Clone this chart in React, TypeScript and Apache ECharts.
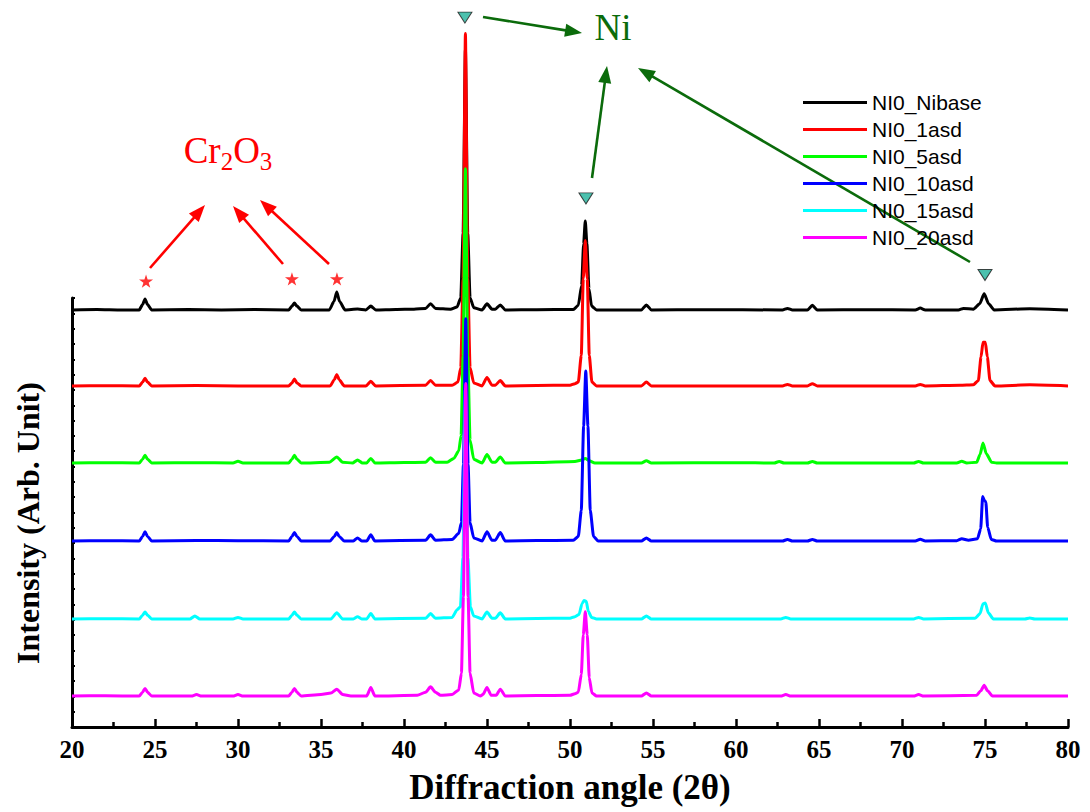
import React, { useEffect, useRef } from 'react';
import * as echarts from 'echarts';

const SERIF = "'Liberation Serif', 'Times New Roman', serif";
const SANS = "'Liberation Sans', Arial, sans-serif";

const seriesNames = ['NI0_Nibase', 'NI0_1asd', 'NI0_5asd', 'NI0_10asd', 'NI0_15asd', 'NI0_20asd'];
const seriesColors = ['#000000', '#ff0000', '#00ff00', '#0000ff', '#00ffff', '#ff00ff'];
// vertical stacking offsets (arb. units)
const baselineOffsets = [27.22, 22.26, 17.23, 12.14, 7.05, 2.02];

const xTicks = { min: 20, max: 80, interval: 5 };

// [2θ, intensity above own baseline]
const nibase: [number, number][] = [
  [20, 0], [21.5, 0.03], [23, 0], [24.05, 0], [24.25, 0.35], [24.4, 0.72], [24.55, 0.35], [24.8, 0],
  [27, 0.03], [29, 0], [31, 0.03], [33.05, 0], [33.25, 0.25], [33.4, 0.45], [33.55, 0.25], [33.8, 0],
  [35.5, 0], [35.78, 0.55], [35.95, 1.17], [36.12, 0.55], [36.45, 0], [37.2, 0.06], [37.7, 0], [38.0, 0.25],
  [38.3, 0], [39.5, 0.03], [40.6, 0.05], [41.3, 0.1], [41.6, 0.4], [41.9, 0.1], [42.8, 0.05], [43.2, 0.2],
  [43.42, 0.8], [43.56, 5], [43.7, 17], [43.84, 5], [43.98, 0.8], [44.2, 0.15], [44.7, 0], [45.0, 0.4],
  [45.3, 0.05], [45.5, 0.05], [45.8, 0.33], [46.1, 0], [48, 0.02], [50.2, 0.03], [50.5, 0.3], [50.7, 1.6],
  [50.82, 4.3], [50.92, 5.8], [51.02, 4.3], [51.14, 1.4], [51.3, 0.25], [51.6, 0], [54.3, 0], [54.6, 0.33],
  [54.9, 0], [58, 0.02], [62.8, 0], [63.1, 0.1], [63.4, 0], [64.3, 0], [64.6, 0.3], [64.9, 0], [68, 0.02],
  [70.8, 0], [71.1, 0.12], [71.4, 0], [73.4, 0], [73.7, 0.1], [74.3, 0.05], [74.68, 0.4], [74.95, 1.05],
  [75.22, 0.4], [75.55, 0], [77.7, 0.08], [80, 0],
];

const asd1: [number, number][] = [
  [20, 0], [22, 0.02], [24.05, 0], [24.25, 0.25], [24.4, 0.5], [24.55, 0.25], [24.8, 0], [27.5, 0.03],
  [30, 0], [33.05, 0], [33.25, 0.2], [33.4, 0.45], [33.55, 0.2], [33.8, 0], [35.55, 0], [35.8, 0.4],
  [35.95, 0.75], [36.1, 0.4], [36.4, 0], [37.7, 0], [38.0, 0.3], [38.3, 0], [41.3, 0.05], [41.6, 0.35],
  [41.9, 0.05], [42.9, 0.05], [43.25, 0.25], [43.42, 1.2], [43.56, 7], [43.7, 23], [43.84, 7], [43.98, 1.2],
  [44.2, 0.2], [44.7, 0], [45.0, 0.55], [45.3, 0.05], [45.5, 0.05], [45.8, 0.35], [46.1, 0], [48, 0.03],
  [50.0, 0.05], [50.3, 0.15], [50.5, 0.25], [50.68, 2.0], [50.8, 7], [50.92, 9.5], [51.04, 7], [51.16, 2.0],
  [51.32, 0.25], [51.6, 0], [54.3, 0], [54.6, 0.25], [54.9, 0], [62.8, 0], [63.1, 0.1], [63.4, 0], [64.3, 0],
  [64.6, 0.15], [64.9, 0], [70.8, 0], [71.1, 0.1], [71.4, 0], [73.5, 0.05], [74.3, 0.08], [74.6, 0.35],
  [74.76, 1.9], [74.88, 2.85], [75.02, 2.85], [75.14, 1.9], [75.3, 0.35], [75.6, 0], [77.7, 0.07], [80, 0],
];

const asd5: [number, number][] = [
  [20, 0], [22, 0.02], [24.05, 0], [24.25, 0.25], [24.4, 0.5], [24.55, 0.25], [24.8, 0], [27.5, 0.02],
  [29.7, 0], [30.0, 0.12], [30.3, 0], [33.05, 0], [33.25, 0.25], [33.4, 0.5], [33.55, 0.25], [33.8, 0],
  [35.5, 0.05], [35.95, 0.4], [36.3, 0.05], [36.9, 0], [37.2, 0.2], [37.5, 0], [37.75, 0], [38.0, 0.3],
  [38.25, 0], [40, 0.03], [41.3, 0.05], [41.6, 0.35], [41.9, 0.05], [42.6, 0.05], [43.0, 0.3], [43.3, 0.8],
  [43.44, 1.8], [43.56, 7], [43.7, 19.2], [43.84, 7], [43.98, 1.5], [44.2, 0.25], [44.7, 0], [45.0, 0.55],
  [45.3, 0.05], [45.5, 0.05], [45.8, 0.4], [46.1, 0], [48, 0.03], [50.3, 0.1], [50.7, 0.2], [50.92, 0.3],
  [51.15, 0.15], [51.5, 0], [54.3, 0], [54.6, 0.15], [54.9, 0], [60, 0.02], [62.3, 0], [62.6, 0.1],
  [62.9, 0], [64.3, 0], [64.6, 0.1], [64.9, 0], [70.7, 0], [71.0, 0.1], [71.3, 0], [73.3, 0], [73.6, 0.12],
  [73.9, 0], [74.5, 0.05], [74.7, 0.55], [74.88, 1.3], [75.08, 0.6], [75.4, 0.05], [75.7, 0], [80, 0],
];

const asd10: [number, number][] = [
  [20, 0], [22, 0.02], [24.05, 0], [24.25, 0.3], [24.4, 0.6], [24.55, 0.3], [24.8, 0], [27.5, 0.03],
  [30, 0.02], [33.05, 0], [33.25, 0.3], [33.4, 0.55], [33.55, 0.3], [33.8, 0], [35.55, 0], [35.8, 0.3],
  [35.95, 0.55], [36.1, 0.3], [36.4, 0], [36.95, 0], [37.2, 0.2], [37.45, 0], [37.75, 0], [38.0, 0.4],
  [38.25, 0], [41.3, 0.05], [41.6, 0.4], [41.9, 0.05], [42.9, 0.1], [43.3, 0.5], [43.46, 1.2], [43.58, 5],
  [43.72, 14.5], [43.86, 5], [43.98, 1.2], [44.2, 0.2], [44.7, 0], [45.0, 0.6], [45.3, 0.05], [45.5, 0.05],
  [45.8, 0.55], [46.1, 0], [48, 0.03], [50.2, 0.05], [50.5, 0.3], [50.68, 2.0], [50.82, 7.5], [50.95, 11.1],
  [51.08, 7.5], [51.22, 2.0], [51.42, 0.3], [51.7, 0], [54.3, 0], [54.6, 0.2], [54.9, 0], [62.8, 0],
  [63.1, 0.1], [63.4, 0], [64.3, 0], [64.6, 0.1], [64.9, 0], [70.8, 0], [71.1, 0.12], [71.4, 0],
  [73.3, 0.02], [73.6, 0.15], [74.0, 0.05], [74.55, 0.15], [74.74, 0.8], [74.86, 2.9], [74.96, 2.65],
  [75.05, 2.55], [75.16, 0.9], [75.38, 0.1], [75.7, 0], [80, 0],
];

const asd15: [number, number][] = [
  [20, 0], [22, 0.02], [24.05, 0], [24.25, 0.25], [24.4, 0.45], [24.55, 0.25], [24.8, 0], [27.1, 0],
  [27.4, 0.2], [27.7, 0], [29.7, 0], [30.0, 0.1], [30.3, 0], [33.05, 0], [33.25, 0.25], [33.4, 0.45],
  [33.55, 0.25], [33.8, 0], [35.6, 0], [35.95, 0.4], [36.3, 0], [36.95, 0], [37.2, 0.15], [37.45, 0],
  [37.75, 0], [38.0, 0.35], [38.25, 0], [41.3, 0.05], [41.6, 0.35], [41.9, 0.05], [42.9, 0.1], [43.2, 0.6],
  [43.4, 0.8], [43.55, 4], [43.7, 15], [43.85, 4], [44.0, 0.8], [44.2, 0.2], [44.7, 0], [45.0, 0.45],
  [45.3, 0.05], [45.5, 0.05], [45.8, 0.4], [46.1, 0], [48, 0.03], [50.0, 0.05], [50.3, 0.15], [50.55, 0.3],
  [50.72, 1.0], [50.85, 1.2], [50.98, 1.15], [51.1, 0.5], [51.3, 0.1], [51.6, 0], [54.3, 0], [54.6, 0.2],
  [54.9, 0], [62.7, 0], [63.0, 0.1], [63.3, 0], [70.7, 0], [71.0, 0.1], [71.3, 0], [74.4, 0.05],
  [74.7, 0.35], [74.88, 1.0], [75.02, 1.05], [75.2, 0.4], [75.5, 0], [77.4, 0], [77.7, 0.07], [78, 0],
  [80, 0],
];

const asd20: [number, number][] = [
  [20, 0], [22, 0.02], [24.05, 0], [24.25, 0.25], [24.4, 0.5], [24.55, 0.25], [24.8, 0], [27.2, 0],
  [27.5, 0.1], [27.8, 0], [29.7, 0], [30.0, 0.1], [30.3, 0], [33.05, 0], [33.25, 0.25], [33.4, 0.5],
  [33.55, 0.25], [33.8, 0], [35.0, 0.1], [35.6, 0.2], [35.95, 0.45], [36.3, 0.1], [36.8, 0], [37.75, 0],
  [38.0, 0.55], [38.25, 0], [40.8, 0.05], [41.3, 0.25], [41.6, 0.6], [41.9, 0.25], [42.2, 0.05],
  [42.9, 0.1], [43.3, 0.4], [43.46, 1.5], [43.58, 6.5], [43.72, 20.4], [43.86, 6.5], [43.98, 1.5], [44.2, 0.2],
  [44.6, 0], [44.75, 0.1], [45.0, 0.55], [45.25, 0.05], [45.55, 0.05], [45.8, 0.45], [46.1, 0], [48, 0.03],
  [50.0, 0.05], [50.3, 0.15], [50.5, 0.25], [50.68, 1.4], [50.8, 4.0], [50.92, 5.5], [51.04, 4.0],
  [51.16, 1.2], [51.32, 0.2], [51.6, 0], [54.3, 0], [54.6, 0.2], [54.9, 0], [62.7, 0], [63.0, 0.1],
  [63.3, 0], [70.7, 0], [71.0, 0.1], [71.3, 0], [74.5, 0.05], [74.75, 0.35], [74.95, 0.7], [75.15, 0.35],
  [75.45, 0], [80, 0],
];

const profiles = [nibase, asd1, asd5, asd10, asd15, asd20];

// peak markers (2θ, arb. units)
const cr2o3Marks: [number, number][] = [[24.46, 29.1], [33.25, 29.25], [35.96, 29.25]];
const niMarks: [number, number][] = [[43.67, 46.3], [50.96, 34.5], [75.0, 29.5]];

const STAR = 'path://M50,0 L61,35 L98,35 L68,57 L79,91 L50,70 L21,91 L32,57 L2,35 L39,35 Z';

function arrow(x1: number, y1: number, x2: number, y2: number, color: string) {
  const dx = x2 - x1;
  const dy = y2 - y1;
  const len = Math.sqrt(dx * dx + dy * dy);
  const ux = dx / len;
  const uy = dy / len;
  const hl = 17;
  const hw = 6.5;
  const bx = x2 - ux * hl;
  const by = y2 - uy * hl;
  return {
    type: 'group',
    silent: true,
    children: [
      { type: 'line', shape: { x1, y1, x2: bx + ux * 2, y2: by + uy * 2 }, style: { stroke: color, lineWidth: 2.6 } },
      {
        type: 'polygon',
        shape: { points: [[x2, y2], [bx - uy * hw, by + ux * hw], [bx + uy * hw, by - ux * hw]] },
        style: { fill: color },
      },
    ],
  };
}

export default function App() {
  const ref = useRef<HTMLDivElement>(null);
  useEffect(() => {
    if (!ref.current) return;
    const chart = echarts.init(ref.current, null, { renderer: 'svg' });

    const lineSeries = profiles.map((p, i) => ({
      name: seriesNames[i],
      type: 'line',
      data: p.map(([x, y]) => [x, y + baselineOffsets[i]]),
      showSymbol: false,
      symbol: 'none',
      clip: false,
      smooth: 0.2,
      smoothMonotone: 'x',
      lineStyle: { color: seriesColors[i], width: 3, join: 'round' },
      itemStyle: { color: seriesColors[i] },
      emphasis: { disabled: true },
      z: 2 + i,
    }));

    const red = '#ff0000';
    const green = '#0b6b0b';

    const option = {
      animation: false,
      textStyle: { fontFamily: SERIF },
      grid: { left: 72, right: 22, top: 298, bottom: 85, containLabel: false },
      legend: {
        data: seriesNames,
        orient: 'vertical',
        left: 798,
        top: 87,
        itemWidth: 64,
        itemHeight: 3,
        itemGap: 6,
        icon: 'rect',
        selectedMode: false,
        textStyle: { fontFamily: SANS, fontSize: 21, color: '#000' },
      },
      xAxis: {
        type: 'value',
        min: xTicks.min,
        max: xTicks.max,
        interval: xTicks.interval,
        name: 'Diffraction angle (2θ)',
        nameLocation: 'middle',
        nameGap: 43,
        nameTextStyle: { fontFamily: SERIF, fontWeight: 'bold', fontSize: 35, color: '#000' },
        axisLine: { lineStyle: { color: '#000', width: 3 } },
        axisTick: { inside: true, length: 8, lineStyle: { color: '#000', width: 2.5 } },
        minorTick: { show: true, splitNumber: 2, length: 5, lineStyle: { color: '#000', width: 2.5 } },
        axisLabel: { fontFamily: SERIF, fontWeight: 'bold', fontSize: 25, color: '#000', margin: 10 },
        splitLine: { show: false },
      },
      yAxis: {
        type: 'value',
        min: 0,
        max: 28,
        interval: 1,
        axisLine: { show: true, lineStyle: { color: '#000', width: 3 } },
        axisTick: { show: true, inside: true, length: 3, lineStyle: { color: '#000', width: 2 } },
        axisLabel: { show: false },
        splitLine: { show: false },
      },
      series: [
        ...lineSeries,
        {
          name: 'Cr2O3 peaks',
          type: 'scatter',
          data: cr2o3Marks,
          symbol: STAR,
          symbolSize: 14,
          symbolKeepAspect: true,
          clip: false,
          itemStyle: { color: red },
          silent: true,
          z: 20,
        },
        {
          name: 'Ni peaks',
          type: 'scatter',
          data: niMarks,
          symbol: 'triangle',
          symbolRotate: 180,
          symbolSize: [14, 11],
          clip: false,
          itemStyle: { color: '#1fb29a', borderColor: '#1a1a1a', borderWidth: 1 },
          silent: true,
          z: 20,
        },
      ],
      graphic: [
        {
          type: 'text',
          x: 28,
          y: 523,
          rotation: Math.PI / 2,
          silent: true,
          style: {
            text: 'Intensity (Arb. Unit)',
            fontFamily: SERIF,
            fontWeight: 'bold',
            fontSize: 32,
            fill: '#000',
            align: 'center',
            verticalAlign: 'middle',
          },
        },
        {
          type: 'text',
          x: 228,
          y: 150,
          silent: true,
          style: {
            text: '{a|Cr}{b|2}{a|O}{b|3}',
            align: 'center',
            verticalAlign: 'middle',
            rich: {
              a: { fontFamily: SERIF, fontSize: 37, fill: red, color: red, verticalAlign: 'middle' },
              b: { fontFamily: SERIF, fontSize: 25, fill: red, color: red, padding: [22, 0, 0, 0], verticalAlign: 'middle' },
            },
          },
        },
        {
          type: 'text',
          x: 613,
          y: 27,
          silent: true,
          style: {
            text: 'Ni',
            fontFamily: SERIF,
            fontSize: 37,
            fill: green,
            align: 'center',
            verticalAlign: 'middle',
          },
        },
        arrow(150, 268, 205, 205, red),
        arrow(283, 264, 233, 206, red),
        arrow(329, 264, 260, 200, red),
        arrow(483, 17, 582, 33, green),
        arrow(592, 178, 607, 66, green),
        arrow(970, 262, 638, 68, green),
      ],
    };

    chart.setOption(option as any);
    return () => chart.dispose();
  }, []);

  return <div ref={ref} style={{ position: 'absolute', left: 0, top: 0, width: 1090, height: 812 }} />;
}
